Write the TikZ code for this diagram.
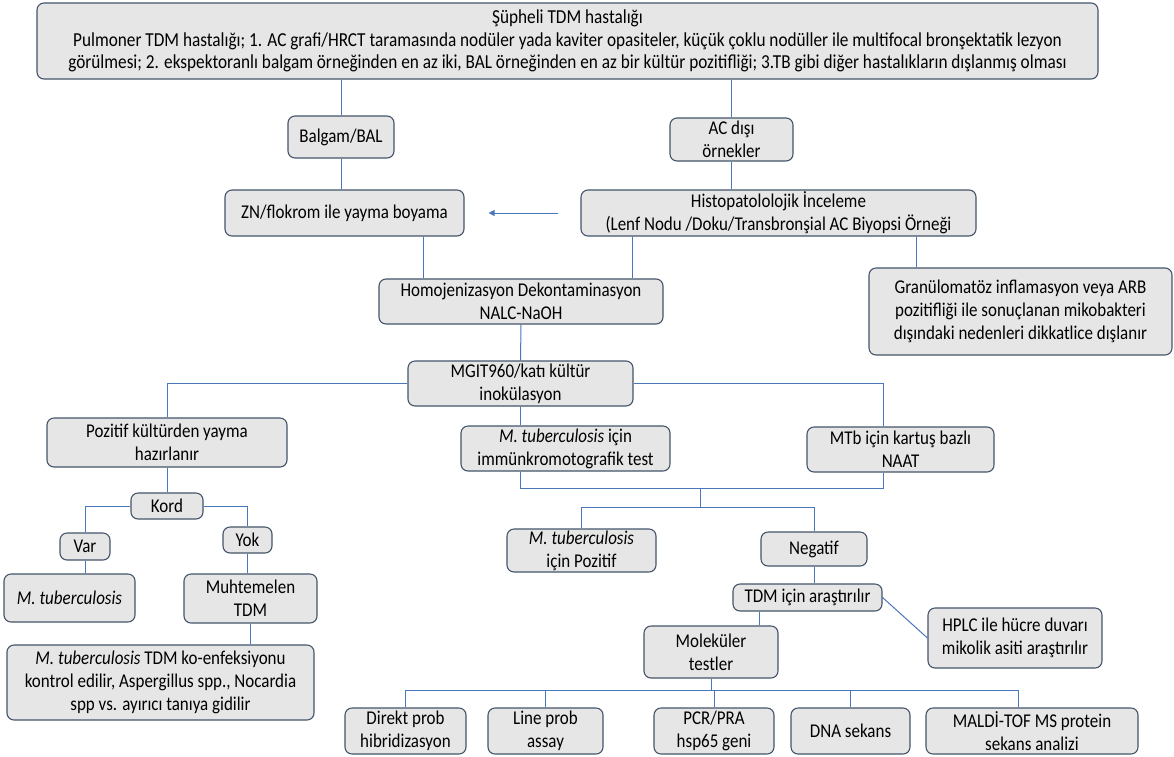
\documentclass[tikz,border=0pt]{standalone}
\usepackage{fontspec}
\setmainfont{Carlito}[FakeStretch=0.87]
\usetikzlibrary{arrows.meta}
\definecolor{boxfill}{HTML}{E7E6E6}
\definecolor{boxline}{HTML}{44546A}
\definecolor{conn}{HTML}{4A76BC}
\newcommand\bfs{\fontsize{19.5}{23}\selectfont}
\newcommand\tfs{\fontsize{19.8}{22.5}\selectfont}
\tikzset{
  box/.style={draw=boxline, fill=boxfill, rounded corners=7pt, line width=1.1pt, inner sep=0pt, align=center, font=\bfs},
  link/.style={draw=conn, line width=1pt}
}
% \bx[options]{name}{x1}{y1}{x2}{y2}{text}
\newcommand\bx[7][]{%
  \pgfmathsetmacro\bxw{#5-#3}\pgfmathsetmacro\bxh{#6-#4}%
  \pgfmathsetmacro\bxx{(#3+#5)/2}\pgfmathsetmacro\bxy{(#4+#6)/2}%
  \node[box,#1,minimum width=\bxw pt,minimum height=\bxh pt] (#2) at (\bxx,\bxy) {#7};}
\begin{document}
\begin{tikzpicture}[x=1pt,y=-1pt]
\useasboundingbox (0,0) rectangle (1174,756);
% boxes
\bx[font=\tfs]{top}{37}{3}{1098}{79}{Şüpheli TDM hastalığı\\Pulmoner TDM hastalığı; 1. AC grafi/HRCT taramasında nodüler yada kaviter opasiteler, küçük çoklu nodüller ile multifocal bronşektatik lezyon\\görülmesi; 2. ekspektoranlı balgam örneğinden en az iki, BAL örneğinden en az bir kültür pozitifliği; 3.TB gibi diğer hastalıkların dışlanmış olması}
\bx{balgam}{288}{116}{394}{158}{Balgam/BAL}
\bx{acdisi}{670}{118}{793}{161}{AC dışı\\örnekler}
\bx{zn}{225}{190}{464}{236}{ZN/flokrom ile yayma boyama}
\bx{histo}{581}{190}{976}{236}{Histopatololojik İnceleme\\(Lenf Nodu /Doku/Transbronşial AC Biyopsi Örneği}
\bx{granu}{869}{268}{1172}{355}{Granülomatöz inflamasyon veya ARB\\pozitifliği ile sonuçlanan mikobakteri\\dışındaki nedenleri dikkatlice dışlanır}
\bx{homo}{379}{279}{663}{324}{Homojenizasyon Dekontaminasyon\\NALC-NaOH}
\bx{mgit}{408}{361}{633}{406}{MGIT960/katı kültür\\inokülasyon}
\bx{poz}{47}{418}{287}{467}{Pozitif kültürden yayma\\hazırlanır}
\bx{immuno}{461}{426}{670}{471}{\textit{M. tuberculosis} için\\immünkromotografik test}
\bx{mtb}{807}{427}{994}{472}{MTb için kartuş bazlı\\NAAT}
\bx{kord}{131}{493}{203}{519}{Kord}
\bx{var}{60}{533}{110}{560}{Var}
\bx{yok}{223}{527}{272}{553}{Yok}
\bx{mtbpoz}{507}{529}{656}{572}{\textit{M. tuberculosis}\\için Pozitif}
\bx{negatif}{761}{532}{867}{566}{Negatif}
\bx{mtbone}{4}{574}{135}{622}{\textit{M. tuberculosis}}
\bx{muht}{184}{574}{317}{623}{Muhtemelen\\TDM}
\bx{tdm}{733}{584}{882}{611}{TDM için araştırılır}
\bx{hplc}{928}{608}{1102}{668}{HPLC ile hücre duvarı\\mikolik asiti araştırılır}
\bx{molek}{644}{626}{778}{678}{Moleküler\\testler}
\bx{koenf}{7}{645}{314}{720}{\textit{M. tuberculosis} TDM ko-enfeksiyonu\\kontrol edilir, Aspergillus spp., Nocardia\\spp vs. ayırıcı tanıya gidilir}
\bx{direkt}{345}{708}{466}{754}{Direkt prob\\hibridizasyon}
\bx{lineprob}{488}{708}{603}{754}{Line prob\\assay}
\bx{pcr}{654}{708}{774}{754}{PCR/PRA\\hsp65 geni}
\bx{dna}{791}{708}{910}{754}{DNA sekans}
\bx{maldi}{926}{708}{1138}{754}{MALDİ-TOF MS protein\\sekans analizi}
% helper coordinates
\coordinate (cA) at (423,0);
\coordinate (cB) at (632,0);
\coordinate (cC) at (916,0);
\coordinate (cD) at (883,0);
\coordinate (cE) at (759,0);
\coordinate (cF) at (1018,0);
\coordinate (bA) at (0,488);
\coordinate (bB) at (700,488);
\coordinate (bC) at (0,507);
\coordinate (bus) at (0,690);
% connectors
\draw[link] (balgam.north |- top.south) -- (balgam.north);
\draw[link] (acdisi.north |- top.south) -- (acdisi.north);
\draw[link] (balgam.south) -- (balgam.south |- zn.north);
\draw[link] (acdisi.south) -- (acdisi.south |- histo.north);
\draw[link, -{Triangle[length=6pt,width=6pt]}] ([xshift=-22pt]histo.west) -- ([xshift=24pt]zn.east);
\draw[link] (cA |- zn.south) -- (cA |- homo.north);
\draw[link] (cB |- histo.south) -- (cB |- homo.north);
\draw[link] (cC |- histo.south) -- (cC |- granu.north);
\draw[link] (homo.south) -- (mgit.north);
\draw[link] (mgit.west) -| (poz.north);
\draw[link] (mgit.east) -| (cD |- mtb.north);
\draw[link] (mgit.south) -- (mgit.south |- immuno.north);
\draw[link] (mgit.south |- immuno.south) -- (mgit.south |- bA) -- (cD |- bA) -- (cD |- mtb.south);
\draw[link] (bB) -- (bB |- bC);
\draw[link] (mtbpoz.north) |- (negatif.north |- bC) -- (negatif.north);
\draw[link] (negatif.south) -- (negatif.south |- tdm.north);
\draw[link] (tdm.east) -- (hplc.west);
\draw[link] (cE |- tdm.south) -- (cE |- molek.north);
\draw[link] (molek.south) -- (molek.south |- bus);
\draw[link] (direkt.north) |- (cF |- bus) -- (cF |- maldi.north);
\draw[link] (lineprob.north) -- (lineprob.north |- bus);
\draw[link] (pcr.north) -- (pcr.north |- bus);
\draw[link] (dna.north) -- (dna.north |- bus);
\draw[link] (poz.south) -- (kord.north);
\draw[link] (kord.west) -| (var.north);
\draw[link] (kord.east) -| (yok.north);
\draw[link] (var.south) -- (var.south |- mtbone.north);
\draw[link] (yok.south) -- (yok.south |- muht.north);
\draw[link] (muht.south) -- (muht.south |- koenf.north);
\end{tikzpicture}
\end{document}
